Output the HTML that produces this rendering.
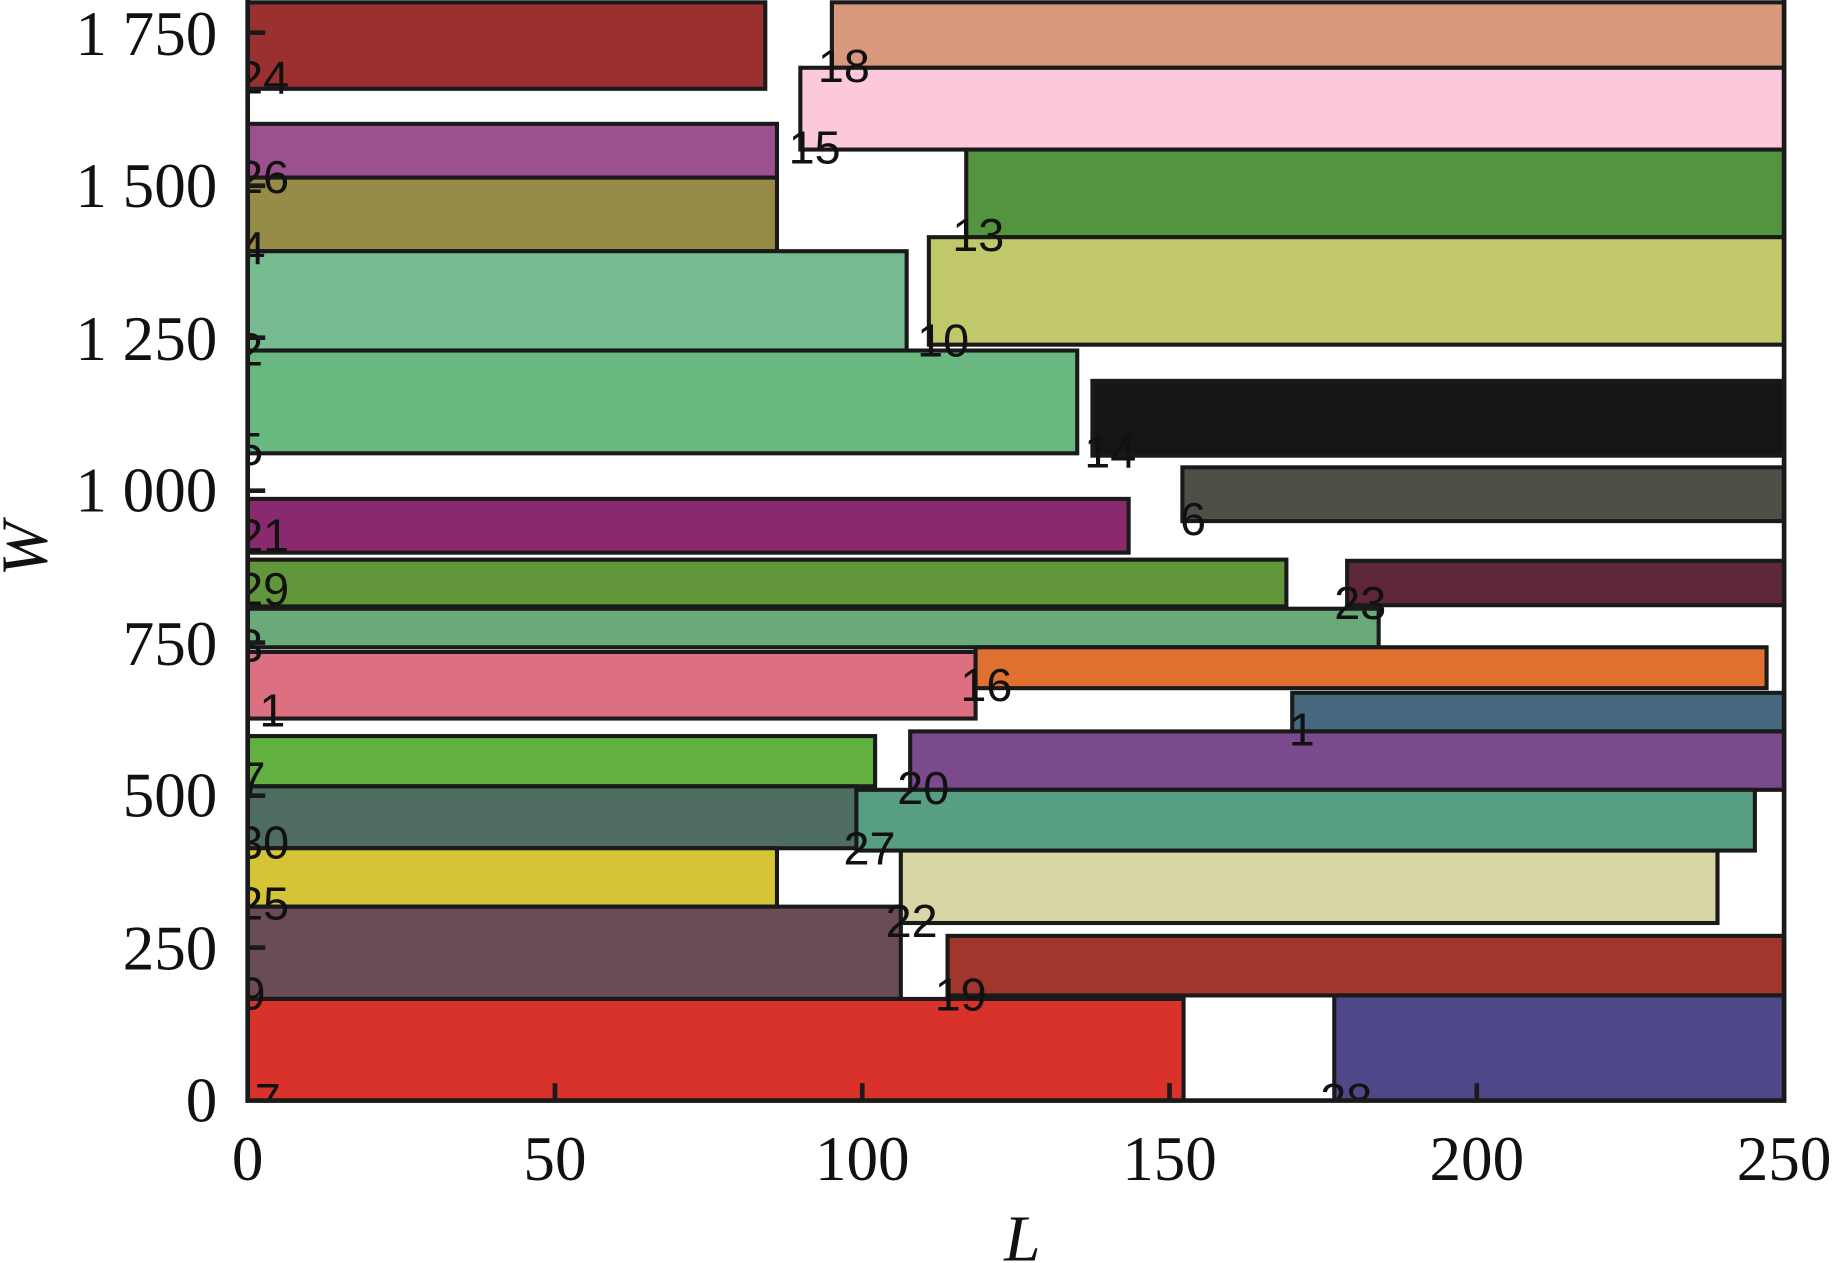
<!DOCTYPE html>
<html><head><meta charset="utf-8"><style>html,body{margin:0;padding:0;background:#fff;}svg{display:block}</style></head>
<body>
<svg width="1832" height="1263" viewBox="0 0 1568 1081" preserveAspectRatio="none" xmlns="http://www.w3.org/2000/svg">
<defs><clipPath id="c"><rect x="212" y="0" width="1316" height="942"/></clipPath></defs>
<g stroke="#1a1a1a" stroke-width="3.5">
<rect x="212" y="2" width="443" height="74" fill="#9a3030"/>
<rect x="212" y="106" width="453" height="46" fill="#9b5090"/>
<rect x="212" y="152" width="453" height="63" fill="#968c48"/>
<rect x="212" y="215" width="564" height="85" fill="#76bc90"/>
<rect x="212" y="300" width="710" height="88" fill="#68b880"/>
<rect x="212" y="427" width="754" height="46" fill="#8a2a6e"/>
<rect x="212" y="479" width="889" height="40" fill="#62963a"/>
<rect x="212" y="521" width="968" height="33" fill="#6aaa78"/>
<rect x="212" y="558" width="623" height="57" fill="#dc7080"/>
<rect x="212" y="630" width="537" height="43" fill="#62b040"/>
<rect x="212" y="673" width="521" height="53" fill="#4e6c60"/>
<rect x="212" y="726" width="453" height="50" fill="#d4c436"/>
<rect x="212" y="776" width="559" height="79" fill="#6a4c58"/>
<rect x="212" y="855" width="801" height="87" fill="#d8322a"/>
<rect x="712" y="2" width="815" height="56" fill="#d8987c"/>
<rect x="685" y="58" width="842" height="70" fill="#fcc8dc"/>
<rect x="827" y="128" width="700" height="75" fill="#54943e"/>
<rect x="795" y="203" width="732" height="92" fill="#c0c86a"/>
<rect x="935" y="326" width="592" height="64" fill="#151515"/>
<rect x="1012" y="400" width="515" height="46" fill="#4e5048"/>
<rect x="1153" y="480" width="374" height="38" fill="#5e2838"/>
<rect x="835" y="554" width="677" height="35" fill="#e07030"/>
<rect x="1106" y="593" width="421" height="33" fill="#46687e"/>
<rect x="779" y="626" width="748" height="50" fill="#7a4a8c"/>
<rect x="733" y="676" width="769" height="52" fill="#589e82"/>
<rect x="771" y="728" width="699" height="62" fill="#d8d6a4"/>
<rect x="811" y="801" width="716" height="51" fill="#a0362c"/>
<rect x="1142" y="852" width="385" height="90" fill="#4e4888"/>
</g>
<g clip-path="url(#c)" font-family="Liberation Sans, sans-serif" font-size="40" fill="#111">
<text x="203" y="80">24</text><text x="203" y="165">26</text><text x="205" y="226">4</text>
<text x="203" y="313">2</text><text x="203" y="398">5</text><text x="203" y="472">21</text>
<text x="203" y="518">29</text><text x="203" y="566">3</text><text x="222" y="622">1</text>
<text x="205" y="680">7</text><text x="203" y="735">30</text><text x="203" y="787">25</text>
<text x="205" y="864">9</text><text x="218" y="955">7</text>
<text x="700" y="70">18</text><text x="675" y="140">15</text><text x="815" y="215">13</text>
<text x="785" y="305">10</text><text x="928" y="400">14</text><text x="1010" y="458">6</text>
<text x="1142" y="530">23</text><text x="822" y="600">16</text><text x="1103" y="638">1</text>
<text x="768" y="688">20</text><text x="722" y="740">27</text><text x="758" y="802">22</text>
<text x="800" y="865">19</text><text x="1130" y="955">28</text>
</g>
<g stroke="#1a1a1a" stroke-width="4" fill="none">
<polyline points="212,0 212,942 1527,942 1527,0"/>
<path d="M475,942v-15M738,942v-15M1001,942v-15M1264,942v-15M212,811h15M212,681h15M212,550h15M212,420h15M212,289h15M212,159h15M212,28h15"/>
</g>
<g font-family="Liberation Serif, serif" font-size="54" fill="#111">
<g text-anchor="middle"><text x="212" y="1010">0</text><text x="475" y="1010">50</text><text x="738" y="1010">100</text><text x="1001" y="1010">150</text><text x="1264" y="1010">200</text><text x="1527" y="1010">250</text></g>
<g text-anchor="end"><text x="186" y="960">0</text><text x="186" y="830">250</text><text x="186" y="699">500</text><text x="186" y="569">750</text><text x="186" y="438">1 000</text><text x="186" y="308">1 250</text><text x="186" y="177">1 500</text><text x="186" y="47">1 750</text></g>
<text x="875" y="1079" font-style="italic" text-anchor="middle" font-size="56">L</text>
<text transform="translate(40,470) rotate(-90)" font-style="italic" text-anchor="middle" font-size="56">W</text>
</g>
</svg>
</body></html>
